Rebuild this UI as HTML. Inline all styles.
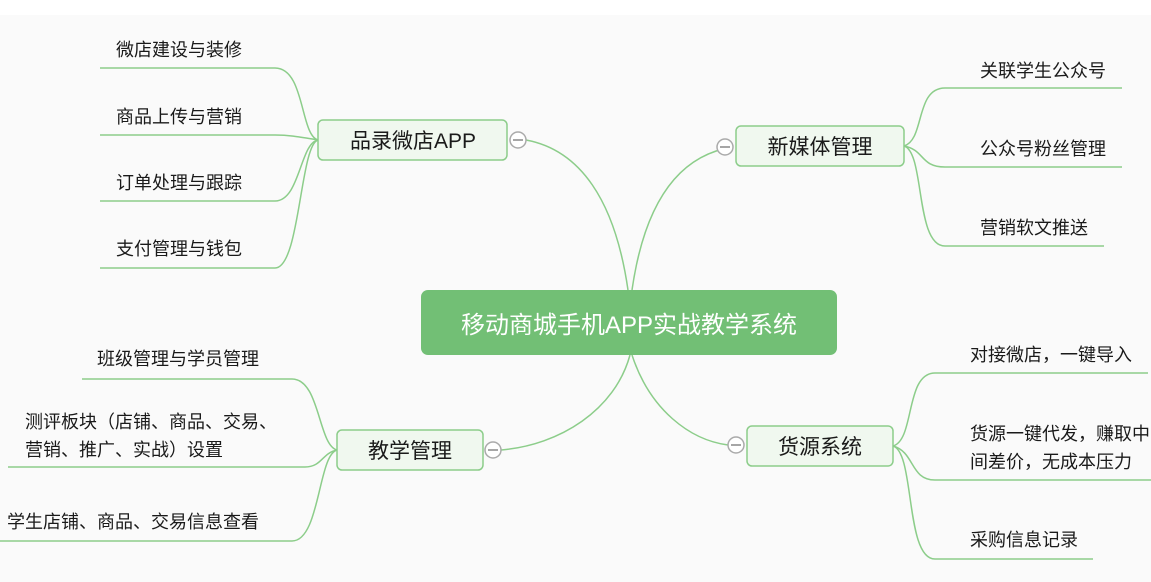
<!DOCTYPE html>
<html><head><meta charset="utf-8"><style>
html,body{margin:0;padding:0;}
body{width:1151px;height:577px;background:#fafafa;overflow:hidden;font-family:"Liberation Sans","Noto Sans CJK SC",sans-serif;}
svg text{font-family:"Liberation Sans","Noto Sans CJK SC",sans-serif;fill:#1a1a1a;}
</style></head><body>
<svg width="1151" height="577" viewBox="0 0 1151 577" xmlns="http://www.w3.org/2000/svg">
<rect x="0" y="0" width="1151" height="15" fill="#ffffff"/>
<g fill="none" stroke="#8ccd8a" stroke-width="1.5">
<path d="M628 290 C615 200 580 150 526 140"/>
<path d="M632 290 C645 200 680 155 733 147"/>
<path d="M630 355 C615 410 560 445 501 450"/>
<path d="M632 355 C650 410 690 440 728 445"/>
<path d="M318 140 C300 135 305 68 275 68 L100 68"/>
<path d="M318 140 C300 137 290 135 275 135 L100 135"/>
<path d="M318 140 C300 143 300 201 275 201 L100 201"/>
<path d="M318 140 C300 145 300 268 275 268 L100 268"/>
<path d="M904 146 C925 140 915 88 945 88 L1122 88"/>
<path d="M904 146 C925 150 920 167 945 167 L1122 167"/>
<path d="M904 146 C925 152 915 246 945 246 L1104 246"/>
<path d="M337 450 C318 445 320 379 292 379 L82 379"/>
<path d="M337 450 C322 453 322 467 305 467 L8 467"/>
<path d="M337 450 C318 455 320 541 292 541 L0 541"/>
<path d="M893 446 C915 440 905 373 935 373 L1148 373"/>
<path d="M893 446 C915 452 910 480 935 480 L1151 480"/>
<path d="M893 446 C915 452 905 559 935 559 L1093 559"/>
</g>
<rect x="421" y="290" width="416" height="65" rx="7" fill="#72bf75"/>
<text x="629" y="333" font-size="24" text-anchor="middle" style="fill:#fff">移动商城手机APP实战教学系统</text>
<g fill="#f0f8ef" stroke="#8ccd8a" stroke-width="1.5">
<rect x="318" y="120" width="189" height="40" rx="5"/>
<rect x="736" y="126" width="168" height="40" rx="5"/>
<rect x="337" y="430" width="146" height="40" rx="5"/>
<rect x="747" y="426" width="146" height="40" rx="5"/>
</g>
<g font-size="21" text-anchor="middle">
<text x="413" y="148">品录微店APP</text>
<text x="820" y="154">新媒体管理</text>
<text x="410" y="458">教学管理</text>
<text x="820" y="454">货源系统</text>
</g>
<g fill="#fff" stroke="#aaa" stroke-width="1.5">
<circle cx="518" cy="140" r="8"/>
<circle cx="725" cy="147" r="8"/>
<circle cx="493" cy="450" r="8"/>
<circle cx="736" cy="445" r="8"/>
</g>
<g stroke="#888" stroke-width="1.5">
<line x1="513" y1="140" x2="523" y2="140"/>
<line x1="720" y1="147" x2="730" y2="147"/>
<line x1="488" y1="450" x2="498" y2="450"/>
<line x1="731" y1="445" x2="741" y2="445"/>
</g>
<g font-size="18">
<text x="116" y="56">微店建设与装修</text>
<text x="116" y="123">商品上传与营销</text>
<text x="116" y="189">订单处理与跟踪</text>
<text x="116" y="255">支付管理与钱包</text>
<text x="980" y="77">关联学生公众号</text>
<text x="980" y="155">公众号粉丝管理</text>
<text x="980" y="234">营销软文推送</text>
<text x="97" y="365">班级管理与学员管理</text>
<text x="25" y="428">测评板块（店铺、商品、交易、</text>
<text x="25" y="456">营销、推广、实战）设置</text>
<text x="7" y="528">学生店铺、商品、交易信息查看</text>
<text x="970" y="361">对接微店，一键导入</text>
<text x="970" y="440">货源一键代发，赚取中</text>
<text x="970" y="468">间差价，无成本压力</text>
<text x="970" y="546">采购信息记录</text>
</g>
</svg>
</body></html>
